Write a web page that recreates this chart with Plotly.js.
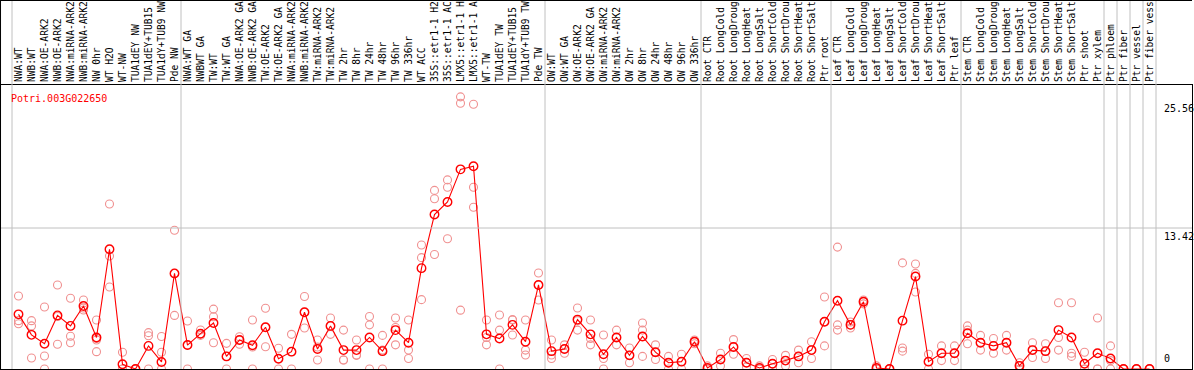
<!DOCTYPE html>
<html><head><meta charset="utf-8">
<script src="https://cdn.plot.ly/plotly-3.0.1.min.js"></script>
<style>html,body{margin:0;padding:0;overflow:hidden;background:#fff}#chart{width:1194px;height:370px}</style>
</head><body><div id="chart"></div>
<script>
const labels = ["NWA:WT","NWB:WT","NWA:OE-ARK2","NWB:OE-ARK2","NWA:miRNA-ARK2","NWB:miRNA-ARK2","NW 0hr","WT H2O","WT-NW","TUA1dEY NW","TUA1dEY+TUB15 NW","TUA1dY+TUB9 NW","Pde NW",
"NWA:WT GA","NWBWT GA","TW:WT","TW:WT GA","NWA:OE-ARK2 GA","NWB:OE-ARK2 GA","TW:OE-ARK2","TW:OE-ARK2 GA","NWA:miRNA-ARK2 GA","NWB:miRNA-ARK2 GA","TW:miRNA-ARK2","TW:miRNA-ARK2 GA","TW 2hr","TW 8hr","TW 24hr","TW 48hr","TW 96hr","TW 336hr","WT ACC","35S::etr1-1 H2O","35S::etr1-1 ACC","LMX5::etr1-1 H2O","LMX5::etr1-1 ACC","WT-TW","TUA1dEY TW","TUA1dEY+TUB15 TW","TUA1dY+TUB9 TW","Pde TW",
"OW:WT","OW:WT GA","OW:OE-ARK2","OW:OE-ARK2 GA","OW:miRNA-ARK2","OW:miRNA-ARK2 GA","OW 2hr","OW 8hr","OW 24hr","OW 48hr","OW 96hr","OW 336hr",
"Root CTR","Root LongCold","Root LongDrought","Root LongHeat","Root LongSalt","Root ShortCold","Root ShortDrought","Root ShortHeat","Root ShortSalt","Ptr root",
"Leaf CTR","Leaf LongCold","Leaf LongDrought","Leaf LongHeat","Leaf LongSalt","Leaf ShortCold","Leaf ShortDrought","Leaf ShortHeat","Leaf ShortSalt","Ptr leaf",
"Stem CTR","Stem LongCold","Stem LongDrought","Stem LongHeat","Stem LongSalt","Stem ShortCold","Stem ShortDrought","Stem ShortHeat","Stem ShortSalt","Ptr shoot",
"Ptr xylem","Ptr phloem","Ptr fiber","Ptr vessel","Ptr fiber vessel"];
const labelChars = 14;

const meanValues = [5.2,3.25,2.4,5.1,4.1,6.0,3.0,11.4,0.45,0,2.2,0.67,9.1,
2.28,3.36,4.38,1.2,2.76,2.26,3.97,0.98,1.65,5.4,1.9,4.1,1.8,1.8,3.0,1.7,3.7,2.5,9.6,14.7,15.9,19.0,19.3,3.3,2.9,4.2,2.6,8.0,
1.7,1.9,4.7,3.3,1.4,3.0,1.3,3.1,1.6,0.6,0.7,2.6,
0.1,0.9,2.1,0.6,0.1,0.5,0.8,1.2,1.8,4.5,
6.5,4.2,6.4,0.1,0,4.6,8.8,0.7,1.5,1.5,
3.4,2.5,2.2,2.5,0.3,1.8,1.7,3.7,3.0,0.5,
1.5,1.0,0,0,0];

const rep1 = [6.95,4.6,5.9,8.0,6.73,6.57,4.66,15.7,1.6,0,3.46,3.1,13.2,4.57,3.71,5.7,2.44,3.07,4.66,5.78,1.97,3.3,
6.9,2.76,4.85,3.7,2.76,5.0,3.2,4.85,4.66,11.8,17.0,17.3,25.9,25.2,4.66,5.14,4.66,4.66,9.14,
2.76,2.3,5.8,4.66,3.24,3.7,2.0,4.38,2.3,1.2,1.4,2.76,
0.3,1.5,2.8,1.0,0.3,0.9,1.3,1.8,2.6,6.85,
11.6,4.47,6.57,0.3,0,10.1,10.0,1.4,2.2,2.2,
4.1,3.2,2.9,3.2,0.6,2.5,2.4,6.3,6.3,1.6,
4.85,2.2,0,0,0];
const rep2 = [4.6,4.1,1.24,5.0,3.11,5.8,2.9,10.75,0,0,3.17,1.6,9.1,2.27,3.36,4.98,1.2,2.76,2.1,3.97,0.98,1.65,
5.4,2.1,4.1,0.86,1.33,4.2,1.8,2.3,1.8,10.6,16.2,18.0,25.3,17.3,2.3,3.7,3.24,1.33,8.0,
1.33,1.9,3.7,2.3,1.0,3.0,1.3,3.7,1.6,0.6,0.7,2.6,
0,0.9,2.1,0.6,0,0.5,0.8,1.2,1.8,4.5,
4.2,4.2,6.4,0,0,2.0,7.33,0.7,1.5,1.5,
3.7,2.5,2.2,2.5,0.3,1.8,1.7,3.0,1.5,0,
0,0.8,0,0,0];
const rep3 = [4.3,1.05,0,2.35,2.5,5.62,2.76,7.8,0,0,0,0,5.1,0,3.2,2.5,0,2.35,0,2.12,0,0,
3.9,0.86,3.3,0.85,1.3,0,0,3.95,1.0,6.6,10.9,12.4,5.6,15.4,3.0,0,4.7,1.8,6.57,
1.0,1.5,4.6,2.9,0,2.3,0.6,1.2,0.9,0,0,2.4,
0,0.3,1.4,0.2,0,0.1,0.3,0.6,1.0,2.2,
3.7,3.9,6.2,0,0,1.7,9.1,0,0.8,0.8,
2.4,1.8,1.5,1.8,0,1.1,1.0,1.8,1.2,0,
0,0,0,0,0];
const rep4 = [null,null,null,null,null,null,1.65];

const groupStarts = [0,13,41,53,63,73,84,85,86,87,88];
const scaleLabels = ["25.56","13.42","0"];
const scaleValues = [25.56,13.42,0];

const idx = labels.map((_,i)=>i);
const W=1194,H=370,ML=1,MR=2,MT=85,MB=1;
const pw=W-ML-MR, ph=H-MT-MB;
const step=13, x0px=17.5;
const xr0=-x0px/step, xr1=xr0+pw/step;
const yTop=27.03;
const mono='"DejaVu Sans Mono", "Liberation Mono", monospace';

const repTraces=[rep1,rep2,rep3,rep4].map(r=>({
  x: idx.slice(0,r.length), y: r, type:'scatter', mode:'markers',
  marker:{symbol:'circle-open',size:8,color:'rgb(240,145,145)',line:{width:1.1}},
  hoverinfo:'skip', showlegend:false
}));
const meanTrace={x:idx,y:meanValues,type:'scatter',mode:'lines+markers',
  line:{color:'#ff0000',width:1.1},
  marker:{symbol:'circle-open',size:8.5,color:'#ff0000',line:{width:1.4}},
  showlegend:false};

const px2paperX = p => (p-ML)/pw;
const shapes=[];
groupStarts.forEach(g=>{
  const xp = px2paperX(ML + (g-0.5-xr0)*step);
  shapes.push({type:'line',xref:'paper',yref:'paper',x0:xp,x1:xp,y0:0,y1:1+MT/ph,line:{color:'#c0c0c0',width:1}});
});
shapes.push({type:'line',xref:'paper',yref:'y',x0:0,x1:1,y0:scaleValues[1],y1:scaleValues[1],line:{color:'#c0c0c0',width:1}});
shapes.push({type:'line',xref:'paper',yref:'paper',x0:-0.0004,x1:-0.0004,y0:0,y1:1+MT/ph,line:{color:'#000',width:1}});
shapes.push({type:'line',xref:'paper',yref:'paper',x0:0,x1:1,y0:1+(MT-0.5)/ph,y1:1+(MT-0.5)/ph,line:{color:'#000',width:1}});

const annotations=[{xref:'paper',yref:'paper',x:px2paperX(9),y:1-6/ph,xanchor:'left',yanchor:'top',showarrow:false,
  text:'Potri.003G022650',font:{family:mono,size:10,color:'#ff0000'}}];
scaleValues.forEach((v,k)=>{
  annotations.push({xref:'paper',yref:'y',x:px2paperX(1162),y:v,xanchor:'left',yanchor:v===0?'bottom':'top',yshift:v===0?3:-1,showarrow:false,
    text:scaleLabels[k],font:{family:mono,size:10,color:'#000'}});
});

const layout={width:W,height:H,margin:{l:ML,r:MR,t:MT,b:MB,pad:0},
  paper_bgcolor:'#fff',plot_bgcolor:'#fff',showlegend:false,
  xaxis:{side:'top',range:[xr0,xr1],tickmode:'array',tickvals:idx,ticktext:labels.map(s=>s.slice(0,labelChars)),tickangle:-90,
    tickfont:{family:mono,size:9.6,color:'#000'},ticks:'',showgrid:false,zeroline:false,
    showline:true,mirror:true,linecolor:'#000',linewidth:1,automargin:false,fixedrange:true},
  yaxis:{range:[0,yTop],showticklabels:false,ticks:'',showgrid:false,zeroline:false,
    showline:true,mirror:true,linecolor:'#000',linewidth:1,automargin:false,fixedrange:true},
  shapes:shapes,annotations:annotations};
Plotly.newPlot('chart',[...repTraces,meanTrace],layout,{staticPlot:true,displayModeBar:false});
</script></body></html>
